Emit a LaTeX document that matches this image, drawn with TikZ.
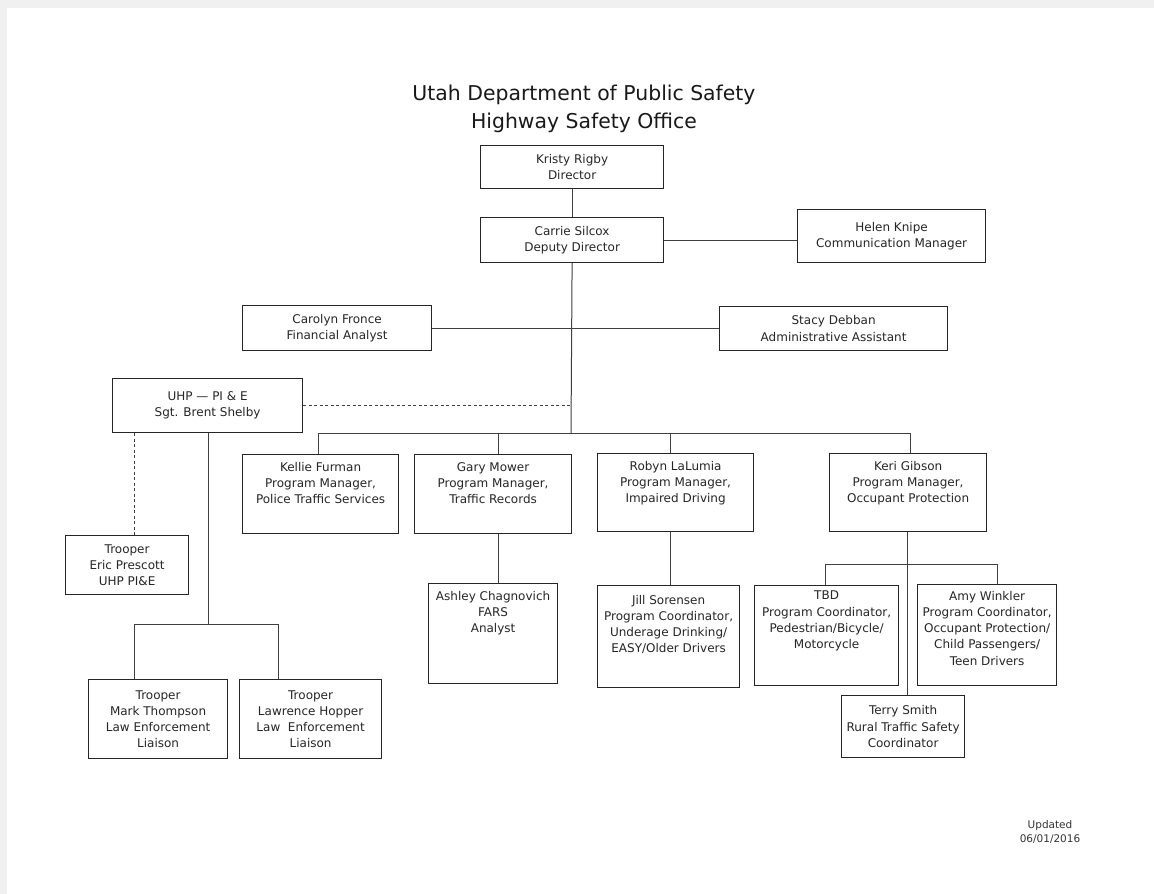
\documentclass[tikz,border=0pt]{standalone}
\usepackage{fontspec}
\setmainfont{DejaVu Sans}
\usetikzlibrary{positioning}
\tikzset{
  box/.style  ={draw=black!85,line width=1.2pt,anchor=north west,inner sep=0pt},
  txt/.style  ={align=center,inner sep=0pt,text=black!85,font=\fontsize{12}{16.2}\selectfont},
  ttl/.style  ={align=center,inner sep=0pt,text=black!90,font=\fontsize{20.4}{28}\selectfont},
  note/.style ={align=center,inner sep=0pt,text=black!80,font=\fontsize{10.5}{14}\selectfont},
  link/.style ={draw=black!75,line width=1pt},
  dlink/.style={link,dash pattern=on 3pt off 2.5pt},
}

\begin{document}
\begin{tikzpicture}[x=1pt,y=-1pt]

  % ---------- page ----------
  \useasboundingbox (0,0) rectangle (1154,894);
  \fill[black!6] (0,0) rectangle (1154,894);
  \fill[white] (7,8) rectangle (1154,894);

  \node[ttl] (title) at (584,109) {Utah Department of Public Safety\\Highway Safety Office};

  % ---------- top ----------
  \node[box,minimum width=183,minimum height=43] (kr) at (480,145) {};
  \node[txt] (kr-t) at (kr) {Kristy Rigby\\Director};
  \node[box,minimum width=183,minimum height=45] (cs) at (480,217) {};
  \node[txt] (cs-t) at (cs) {Carrie Silcox\\Deputy Director};
  \node[box,minimum width=188,minimum height=53] (hk) at (797,209) {};
  \node[txt] (hk-t) at (hk) {Helen Knipe\\Communication Manager};
  \node[box,minimum width=189,minimum height=45] (cf) at (242,305) {};
  \node[txt] (cf-t) at (cf) {Carolyn Fronce\\Financial Analyst};
  \node[box,minimum width=228,minimum height=44] (sd) at (719,306) {};
  \node[txt] (sd-t) at (sd) {Stacy Debban\\Administrative Assistant};
  \node[box,minimum width=190,minimum height=54] (uhp) at (112,378) {};
  \node[txt] (uhp-t) at (uhp) {UHP — PI \& E\\Sgt. Brent Shelby};

  % ---------- program managers ----------
  \node[box,minimum width=156,minimum height=79] (kf) at (242,454) {};
  \node[txt,anchor=north] (kf-t) at ([yshift=-8pt]kf.north) {Kellie Furman\\Program Manager,\\Police Traffic Services};
  \node[box,minimum width=157,minimum height=79] (gm) at (414,454) {};
  \node[txt,anchor=north] (gm-t) at ([yshift=-8pt]gm.north) {Gary Mower\\Program Manager,\\Traffic Records};
  \node[box,minimum width=156,minimum height=78] (rl) at (597,453) {};
  \node[txt,anchor=north] (rl-t) at ([yshift=-8pt]rl.north) {Robyn LaLumia\\Program Manager,\\Impaired Driving};
  \node[box,minimum width=157,minimum height=78] (kg) at (829,453) {};
  \node[txt,anchor=north] (kg-t) at ([yshift=-8pt]kg.north) {Keri Gibson\\Program Manager,\\Occupant Protection};

  % ---------- staff ----------
  \node[box,minimum width=123,minimum height=59] (ep) at (65,535) {};
  \node[txt] (ep-t) at (ep) {Trooper\\Eric Prescott\\UHP PI\&E};
  \node[box,minimum width=129,minimum height=100] (ac) at (428,583) {};
  \node[txt,anchor=north] (ac-t) at ([yshift=-8pt]ac.north) {Ashley Chagnovich\\FARS\\Analyst};
  \node[box,minimum width=142,minimum height=102] (js) at (597,585) {};
  \node[txt,anchor=north] (js-t) at ([yshift=-10pt]js.north) {Jill Sorensen\\Program Coordinator,\\Underage Drinking/\\EASY/Older Drivers};
  \node[box,minimum width=144,minimum height=100] (tbd) at (754,585) {};
  \node[txt,anchor=north] (tbd-t) at ([yshift=-6pt]tbd.north) {TBD\\Program Coordinator,\\Pedestrian/Bicycle/\\Motorcycle};
  \node[box,minimum width=139,minimum height=101] (aw) at (917,584) {};
  \node[txt,anchor=north] (aw-t) at ([yshift=-7pt]aw.north) {Amy Winkler\\Program Coordinator,\\Occupant Protection/\\Child Passengers/\\Teen Drivers};
  \node[box,minimum width=123,minimum height=62] (ts) at (841,695) {};
  \node[txt] (ts-t) at (ts) {Terry Smith\\Rural Traffic Safety\\Coordinator};
  \node[box,minimum width=139,minimum height=79] (mt) at (88,679) {};
  \node[txt] (mt-t) at (mt) {Trooper\\Mark Thompson\\Law Enforcement\\Liaison};
  \node[box,minimum width=142,minimum height=79] (lh) at (239,679) {};
  \node[txt] (lh-t) at (lh) {Trooper\\Lawrence Hopper\\Law~ Enforcement\\Liaison};

  \node[note] (upd) at (1050,832) {Updated\\06/01/2016};

  % ---------- junctions ----------
  \coordinate (trunk) at (571,433);
  \coordinate (pmL) at (318,433);
  \coordinate (gmX) at (498,433);
  \coordinate (rlX) at (670,433);
  \coordinate (pmR) at (910,433);
  \coordinate (kgX) at (907,564);
  \coordinate (opL) at (825,564);
  \coordinate (opR) at (997,564);
  \coordinate (epX) at (134,624);
  \coordinate (trM) at (208,624);
  \coordinate (trR) at (278,624);

  % ---------- lines ----------
  \draw[link] (kr) -- (cs);
  \draw[link] (cs.east) -- (cs.east -| hk.west);
  \draw[link] (cf.east) -- (cf.east -| sd.west);
  \draw[link] (cs.south) -- (trunk);
  \draw[dlink] (uhp.east) -- (uhp.east -| trunk);
  \draw[link] (pmL |- kf.north) -- (pmL) -- (pmR) -- (pmR |- kg.north);
  \draw[link] (gmX) -- (gmX |- gm.north);
  \draw[link] (rlX) -- (rlX |- rl.north);
  \draw[link] (gmX |- gm.south) -- (gmX |- ac.north);
  \draw[link] (rlX |- rl.south) -- (rlX |- js.north);
  \draw[link] (kgX |- kg.south) -- (kgX |- ts.north);
  \draw[link] (opL |- tbd.north) -- (opL) -- (opR) -- (opR |- aw.north);
  \draw[dlink] (epX |- uhp.south) -- (epX |- ep.north);
  \draw[link] (trM |- uhp.south) -- (trM);
  \draw[link] (epX |- mt.north) -- (epX) -- (trR) -- (trR |- lh.north);

\end{tikzpicture}
\end{document}
